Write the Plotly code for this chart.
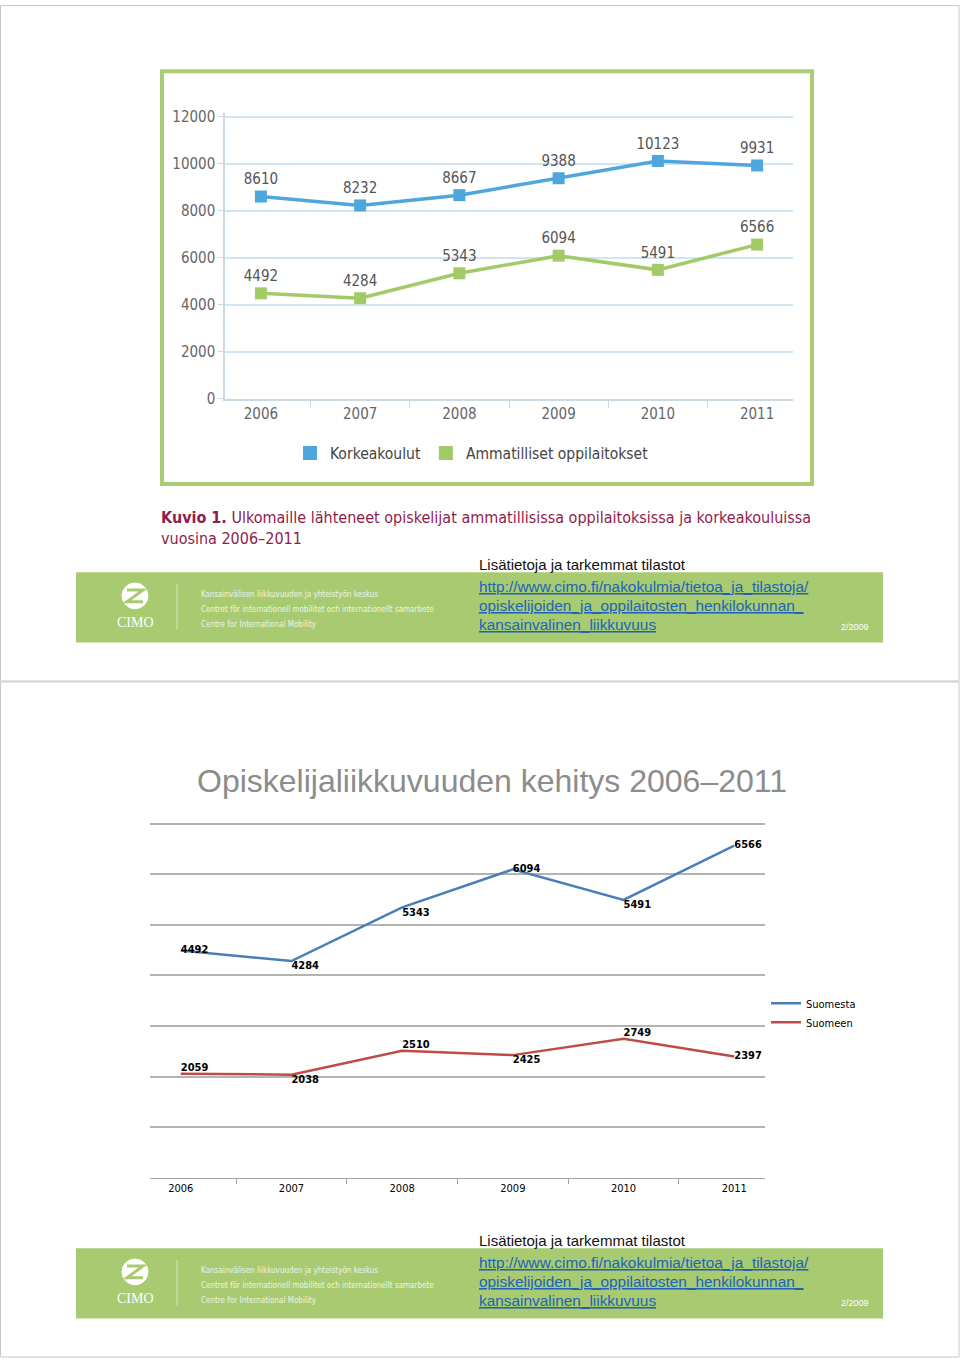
import plotly.graph_objects as go

W, H = 960, 1367

def px(x):
    return x / W

def py(y):
    return 1 - y / H

# ---------------- data ----------------
years = ["2006", "2007", "2008", "2009", "2010", "2011"]
korkeakoulut = [8610, 8232, 8667, 9388, 10123, 9931]
ammatilliset = [4492, 4284, 5343, 6094, 5491, 6566]
suomesta = [4492, 4284, 5343, 6094, 5491, 6566]
suomeen = [2059, 2038, 2510, 2425, 2749, 2397]
top_yticks = [0, 2000, 4000, 6000, 8000, 10000, 12000]
bottom_yticks = [0, 1000, 2000, 3000, 4000, 5000, 6000, 7000]

BLUE = "#4fa6dc"
GREEN = "#a2cb68"
FRAME_GREEN = "#a9cd74"
BANNER_GREEN = "#a8cb72"
XL_BLUE = "#4a7ebb"
XL_RED = "#be4b48"
NARROW = "Liberation Sans Narrow, Arial Narrow, DejaVu Sans Condensed, sans-serif"
ARIAL = "Liberation Sans, Arial, sans-serif"

fig = go.Figure()

# ---------------- top chart ----------------
fig.add_trace(go.Scatter(
    x=years, y=korkeakoulut, mode="lines+markers+text",
    text=[str(v) for v in korkeakoulut], textposition="top center",
    textfont=dict(family=NARROW, size=15, color="#555555"),
    line=dict(color=BLUE, width=3.5),
    marker=dict(symbol="square", size=12, color=BLUE),
    xaxis="x", yaxis="y", showlegend=False, cliponaxis=False,
))
fig.add_trace(go.Scatter(
    x=years, y=ammatilliset, mode="lines+markers+text",
    text=[str(v) for v in ammatilliset], textposition="top center",
    textfont=dict(family=NARROW, size=15, color="#555555"),
    line=dict(color=GREEN, width=3.5),
    marker=dict(symbol="square", size=12, color=GREEN),
    xaxis="x", yaxis="y", showlegend=False, cliponaxis=False,
))
# legend entries (square only)
fig.add_trace(go.Scatter(
    x=[None], y=[None], mode="markers", name="Korkeakoulut",
    marker=dict(symbol="square", size=14, color=BLUE),
    xaxis="x", yaxis="y", legend="legend",
))
fig.add_trace(go.Scatter(
    x=[None], y=[None], mode="markers", name="Ammatilliset oppilaitokset",
    marker=dict(symbol="square", size=14, color=GREEN),
    xaxis="x", yaxis="y", legend="legend",
))

# ---------------- bottom chart ----------------
fig.add_trace(go.Scatter(
    x=years, y=suomesta, mode="lines+text", name="Suomesta",
    text=[str(v) for v in suomesta],
    textposition=["middle right", "bottom right", "bottom right",
                  "middle right", "bottom right", "middle right"],
    textfont=dict(family=NARROW, size=11, color="#000000", weight="bold"),
    line=dict(color=XL_BLUE, width=2.5),
    xaxis="x2", yaxis="y2", legend="legend2", cliponaxis=False,
))
fig.add_trace(go.Scatter(
    x=years, y=suomeen, mode="lines+text", name="Suomeen",
    text=[str(v) for v in suomeen],
    textposition=["top right", "bottom right", "top right",
                  "bottom right", "top right", "middle right"],
    textfont=dict(family=NARROW, size=11, color="#000000", weight="bold"),
    line=dict(color=XL_RED, width=2.5),
    xaxis="x2", yaxis="y2", legend="legend2", cliponaxis=False,
))

shapes = []
annotations = []

# page borders
shapes.append(dict(type="rect", xref="paper", yref="paper",
                   x0=px(0.5), x1=px(959), y0=py(0.5), y1=py(683),
                   line=dict(color="#c8c8c8", width=1), layer="below"))
shapes.append(dict(type="rect", xref="paper", yref="paper",
                   x0=px(0.5), x1=px(959), y0=py(684), y1=py(1366),
                   line=dict(color="#c8c8c8", width=1), layer="below"))

# top chart frame
shapes.append(dict(type="rect", xref="paper", yref="paper",
                   x0=px(162), x1=px(812), y0=py(67), y1=py(484),
                   line=dict(color=FRAME_GREEN, width=4), layer="below"))

# caption
annotations.append(dict(
    text="<b>Kuvio 1.</b> Ulkomaille lähteneet opiskelijat ammatillisissa oppilaitoksissa ja korkeakouluissa<br>vuosina 2006–2011",
    x=px(159), y=py(506), xref="paper", yref="paper", xanchor="left", yanchor="top",
    align="left", showarrow=False,
    font=dict(family=NARROW, size=16, color="#8e1c4c")))

# second slide title
annotations.append(dict(
    text="Opiskelijaliikkuvuuden kehitys 2006–2011",
    x=px(492), y=py(784), xref="paper", yref="paper", xanchor="center", yanchor="middle",
    showarrow=False, font=dict(family=ARIAL, size=32, color="#8c8c8c")))

# banners
for top in (573, 1256):
    shapes.append(dict(type="rect", xref="paper", yref="paper",
                       x0=px(76), x1=px(883), y0=py(top), y1=py(top + 71),
                       fillcolor=BANNER_GREEN, line=dict(width=0), layer="below"))
    shapes.append(dict(type="line", xref="paper", yref="paper",
                       x0=px(177), x1=px(177), y0=py(top + 12), y1=py(top + 58),
                       line=dict(color="#d4e6b8", width=1)))
    shapes.append(dict(type="circle", xref="paper", yref="paper",
                       x0=px(122), x1=px(148), y0=py(top + 11), y1=py(top + 37),
                       fillcolor="#ffffff", line=dict(color="#ffffff", width=1)))
    shapes.append(dict(type="path", xref="paper", yref="paper",
                       path=f"M {px(127)} {py(top + 18)} L {px(143)} {py(top + 18)} "
                            f"L {px(127)} {py(top + 30)} L {px(143)} {py(top + 30)}",
                       line=dict(color=BANNER_GREEN, width=3)))
    annotations.append(dict(text="CIMO", x=px(135), y=py(top + 51), xref="paper", yref="paper",
                            xanchor="center", yanchor="middle", showarrow=False,
                            font=dict(family="Liberation Serif, serif", size=14, color="#ffffff")))
    for i, line in enumerate(["Kansainvälisen liikkuvuuden ja yhteistyön keskus",
                              "Centret för internationell mobilitet och internationellt samarbete",
                              "Centre for International Mobility"]):
        annotations.append(dict(text=line, x=px(199), y=py(top + 23 + 15 * i),
                                xref="paper", yref="paper", xanchor="left", yanchor="middle",
                                showarrow=False,
                                font=dict(family=NARROW, size=8, color="#edf5e2")))
    annotations.append(dict(text="2/2009", x=px(871), y=py(top + 55), xref="paper", yref="paper",
                            xanchor="right", yanchor="middle", showarrow=False,
                            font=dict(family=ARIAL, size=9, color="#ffffff")))
    annotations.append(dict(text="Lisätietoja ja tarkemmat tilastot", x=px(477), y=py(top - 8),
                            xref="paper", yref="paper", xanchor="left", yanchor="middle",
                            showarrow=False, font=dict(family=ARIAL, size=15, color="#111111")))
    for i, line in enumerate(["http://www.cimo.fi/nakokulmia/tietoa_ja_tilastoja/",
                              "opiskelijoiden_ja_oppilaitosten_henkilokunnan_",
                              "kansainvalinen_liikkuvuus"]):
        annotations.append(dict(text=f"<u>{line}</u>", x=px(477), y=py(top + 15 + 19 * i),
                                xref="paper", yref="paper", xanchor="left", yanchor="middle",
                                showarrow=False,
                                font=dict(family=ARIAL, size=15.4, color="#1d64b8")))

# axis geometry: value->pixel mapping fixed by reference (0 at 398, 12000 at 113)
top_max = 12150
top_top_px = 398 - top_max * (398 - 113) / 12000
bot_max = 7060
bot_top_px = 1185 - bot_max * (1185 - 827) / 7000

fig.update_layout(
    width=W, height=H,
    margin=dict(l=0, r=0, t=0, b=0),
    paper_bgcolor="#ffffff", plot_bgcolor="rgba(0,0,0,0)",
    shapes=shapes, annotations=annotations,
    xaxis=dict(domain=[px(225), px(793)], anchor="y", type="category",
               showgrid=False, showline=True, linecolor="#cbd9e2", linewidth=1.5,
               ticks="outside", tickson="boundaries", ticklen=7, tickcolor="#cbd9e2",
               tickfont=dict(family=NARROW, size=15, color="#666666")),
    yaxis=dict(domain=[py(398), py(top_top_px)], anchor="x", range=[0, top_max],
               tickvals=top_yticks, tickformat="d",
               showgrid=True, gridcolor="#cfe5f3", gridwidth=1.5,
               zeroline=False, showline=True, linecolor="#cbd9e2", linewidth=1.5,
               ticks="outside", ticklen=5, tickcolor="#cbd9e2",
               tickfont=dict(family=NARROW, size=15, color="#666666")),
    xaxis2=dict(domain=[px(150), px(765)], anchor="y2", type="category",
                showgrid=False, showline=True, linecolor="#a6a6a6", linewidth=1,
                ticks="outside", tickson="boundaries", ticklen=5, tickcolor="#a6a6a6",
                tickfont=dict(family=NARROW, size=11, color="#000000")),
    yaxis2=dict(domain=[py(1185), py(bot_top_px)], anchor="x2", range=[0, bot_max],
                tickvals=bottom_yticks,
                showgrid=True, gridcolor="#b3b3b3", gridwidth=1.5, zeroline=False,
                showline=False, showticklabels=False),
    legend=dict(orientation="h", x=px(290), y=py(436), xanchor="left", yanchor="top",
                font=dict(family=NARROW, size=15.5, color="#444444"),
                bgcolor="rgba(0,0,0,0)", itemwidth=30),
    legend2=dict(orientation="v", x=px(766), y=py(994), xanchor="left", yanchor="top",
                 font=dict(family=NARROW, size=11, color="#000000"),
                 bgcolor="rgba(0,0,0,0)", tracegroupgap=0),
)

post = ("var s='margin:0;padding:0;overflow:hidden;width:960px;height:1367px;';"
        "document.documentElement.style.cssText=s;document.body.style.cssText=s;"
        "var gd=document.getElementById('{plot_id}');"
        "gd.parentElement.style.cssText=s+'font-size:0;line-height:0;position:relative;';"
        "gd.style.position='absolute';gd.style.left='0px';gd.style.top='0px';")

fig.write_html("out.html", post_script=post, config={"displayModeBar": False})
